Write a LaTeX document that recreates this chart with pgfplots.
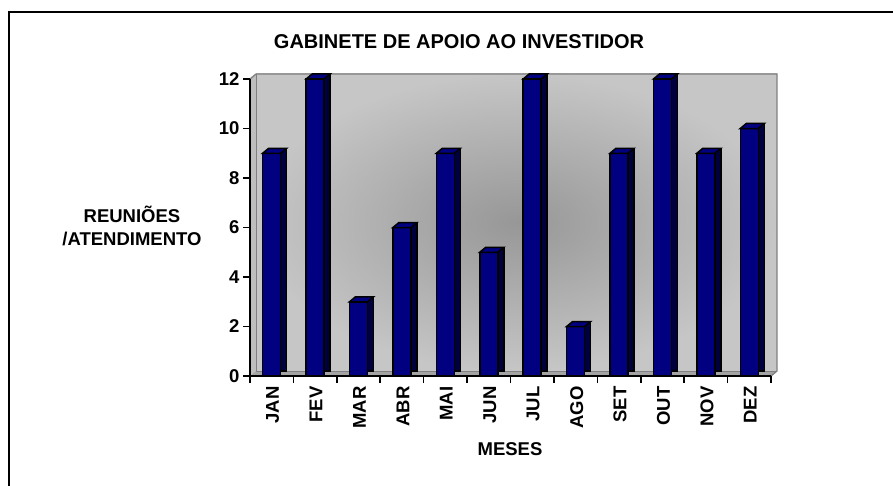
\documentclass[border=0pt]{standalone}
\usepackage{pgfplots}
\usepackage{pgfplotstable}
\pgfplotsset{compat=1.18}
\usepackage{fontspec}
\setmainfont{Liberation Sans}
\definecolor{barfront}{HTML}{000080}
\definecolor{barside}{HTML}{00003C}
\definecolor{wallin}{HTML}{979797}
\definecolor{wallout}{HTML}{C6C6C6}
\definecolor{wallleft}{HTML}{BEBEBE}
\definecolor{floorc}{HTML}{A4A4A4}
\definecolor{wallline}{HTML}{808080}
\pgfdeclareplotmark{top3d}{%
  \pgfpathmoveto{\pgfqpoint{-9pt}{0pt}}%
  \pgfpathlineto{\pgfqpoint{9pt}{0pt}}%
  \pgfpathlineto{\pgfqpoint{15pt}{5pt}}%
  \pgfpathlineto{\pgfqpoint{-3pt}{5pt}}%
  \pgfpathclose
  \pgfusepathqfillstroke}
\pgfplotstableread{
x y
0 9
1 12
2 3
3 6
4 9
5 5
6 12
7 2
8 9
9 12
10 9
11 10
}\datatable
\begin{document}
\begin{tikzpicture}
\path[use as bounding box] (0pt,0pt) rectangle (893pt,485pt);
\draw[line width=2.5pt] (9pt,-2pt) -- (9pt,473pt) -- (895pt,473pt);
\begin{axis}[
  at={(250pt,109pt)}, anchor=south west,
  scale only axis, width=521pt, height=297pt,
  xmin=-0.5, xmax=11.5, ymin=0, ymax=12,
  axis lines=left, axis line style={-, line width=1.6pt, black},
  axis on top,
  clip=false,
  xtick={-0.5,0.5,...,11.5},
  x tick label as interval,
  xticklabels={JAN,FEV,MAR,ABR,MAI,JUN,JUL,AGO,SET,OUT,NOV,DEZ},
  ytick={0,2,...,12},
  tick align=outside, major tick length=7pt,
  tick style={line width=1.6pt, black},
  xticklabel style={rotate=90, anchor=east, yshift=-1pt, font=\bfseries\fontsize{18.5}{18.5}\selectfont},
  yticklabel style={font=\bfseries\fontsize{18.5}{18.5}\selectfont},
  /pgf/number format/assume math mode=true,
]
% side wall
\fill[wallleft] (axis cs:-0.5,0) -- ([xshift=6pt,yshift=5pt]axis cs:-0.5,0) -- ([xshift=6pt,yshift=5pt]axis cs:-0.5,12) -- (axis cs:-0.5,12) -- cycle;
% back wall
\shade[inner color=wallin, outer color=wallout] ([xshift=6pt,yshift=5pt]axis cs:-0.5,0) rectangle ([xshift=6pt,yshift=5pt]axis cs:11.5,12);
% floor
\fill[floorc] (axis cs:-0.5,0) -- (axis cs:11.5,0) -- ([xshift=6pt,yshift=5pt]axis cs:11.5,0) -- ([xshift=6pt,yshift=5pt]axis cs:-0.5,0) -- cycle;
\draw[wallline, line width=1.3pt] (axis cs:-0.5,12) -- ([xshift=6pt,yshift=5pt]axis cs:-0.5,12) -- ([xshift=6pt,yshift=5pt]axis cs:11.5,12) -- ([xshift=6pt,yshift=5pt]axis cs:11.5,0) -- (axis cs:11.5,0);
\draw[wallline, line width=0.8pt] ([xshift=6pt,yshift=5pt]axis cs:-0.5,12) -- ([xshift=6pt,yshift=5pt]axis cs:-0.5,0) -- ([xshift=6pt,yshift=5pt]axis cs:11.5,0);
% bars
\addplot[ybar, bar width=6pt, bar shift=12pt, fill=barside, draw=black, line width=1.5pt, transform canvas={yshift=5pt}] table[x=x,y=y]{\datatable};
\addplot[ybar, bar width=18pt, bar shift=0pt, fill=barfront, draw=black, line width=1.5pt] table[x=x,y=y]{\datatable};
\addplot[only marks, mark=top3d, mark options={fill=barfront, draw=black, line width=1.5pt}] table[x=x,y=y]{\datatable};
\end{axis}
\node[font=\bfseries\fontsize{20}{20}\selectfont, anchor=base] at (459pt,436pt) {GABINETE DE APOIO AO INVESTIDOR};
\node[font=\bfseries\fontsize{18.5}{20}\selectfont, anchor=base] at (132pt,262pt) {REUNIÕES};
\node[font=\bfseries\fontsize{18.5}{20}\selectfont, anchor=base] at (132pt,240pt) {/ATENDIMENTO};
\node[font=\bfseries\fontsize{18.5}{20}\selectfont, anchor=base] at (510pt,30pt) {MESES};
\end{tikzpicture}
\end{document}
